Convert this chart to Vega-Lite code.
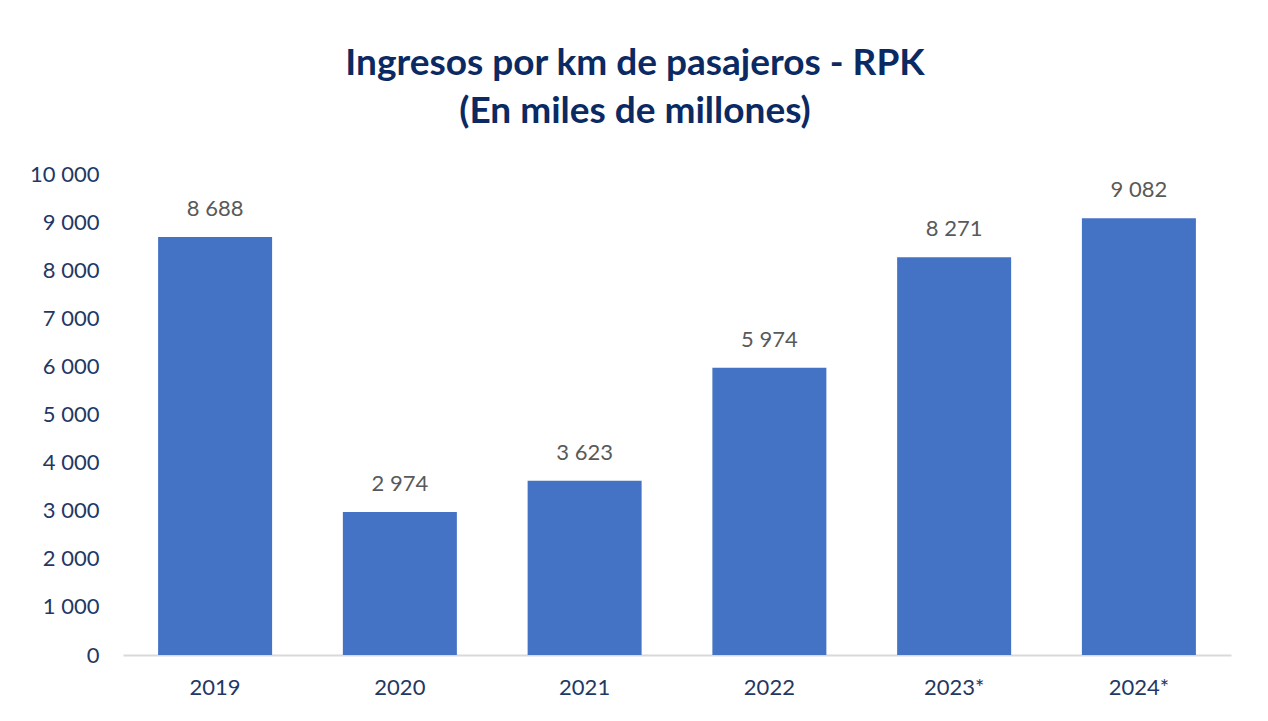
{
  "$schema": "https://vega.github.io/schema/vega-lite/v6.json",
  "width": 1108,
  "height": 481,
  "autosize": "none",
  "padding": {"left": 123, "top": 174, "right": 37, "bottom": 66},
  "background": "white",
  "config": {
    "view": {"stroke": null},
    "locale": {"number": {"decimal": ",", "thousands": " ", "grouping": [3], "currency": ["", ""]}},
    "font": "Lato"
  },
  "title": {
    "text": ["Ingresos por km de pasajeros - RPK", "(En miles de millones)"],
    "font": "Lato",
    "fontSize": 37,
    "fontWeight": "bold",
    "color": "#0B2A63",
    "lineHeight": 48,
    "anchor": "middle",
    "dx": -42,
    "offset": 32
  },
  "data": {
    "values": [
      {"year": "2019", "value": 8688},
      {"year": "2020", "value": 2974},
      {"year": "2021", "value": 3623},
      {"year": "2022", "value": 5974},
      {"year": "2023*", "value": 8271},
      {"year": "2024*", "value": 9082}
    ]
  },
  "encoding": {
    "x": {
      "field": "year", "type": "nominal", "sort": null,
      "scale": {"paddingInner": 0.383, "paddingOuter": 0.19},
      "axis": {"title": null, "labelAngle": 0, "labelFontSize": 22, "labelColor": "#1F3864", "labelPadding": 22, "ticks": false, "domainColor": "#D9D9D9", "domainWidth": 2}
    },
    "y": {
      "field": "value", "type": "quantitative",
      "scale": {"domain": [0, 10000]},
      "axis": {"title": null, "values": [0,1000,2000,3000,4000,5000,6000,7000,8000,9000,10000], "format": ",d", "labelFontSize": 22, "labelColor": "#1F3864", "labelPadding": 24, "ticks": false, "domain": false, "grid": false}
    }
  },
  "layer": [
    {"mark": {"type": "bar", "color": "#4472C4"}},
    {
      "mark": {"type": "text", "baseline": "alphabetic", "dy": -21, "fontSize": 22, "color": "#595959"},
      "encoding": {"text": {"field": "value", "type": "quantitative", "format": ",d"}}
    }
  ]
}
